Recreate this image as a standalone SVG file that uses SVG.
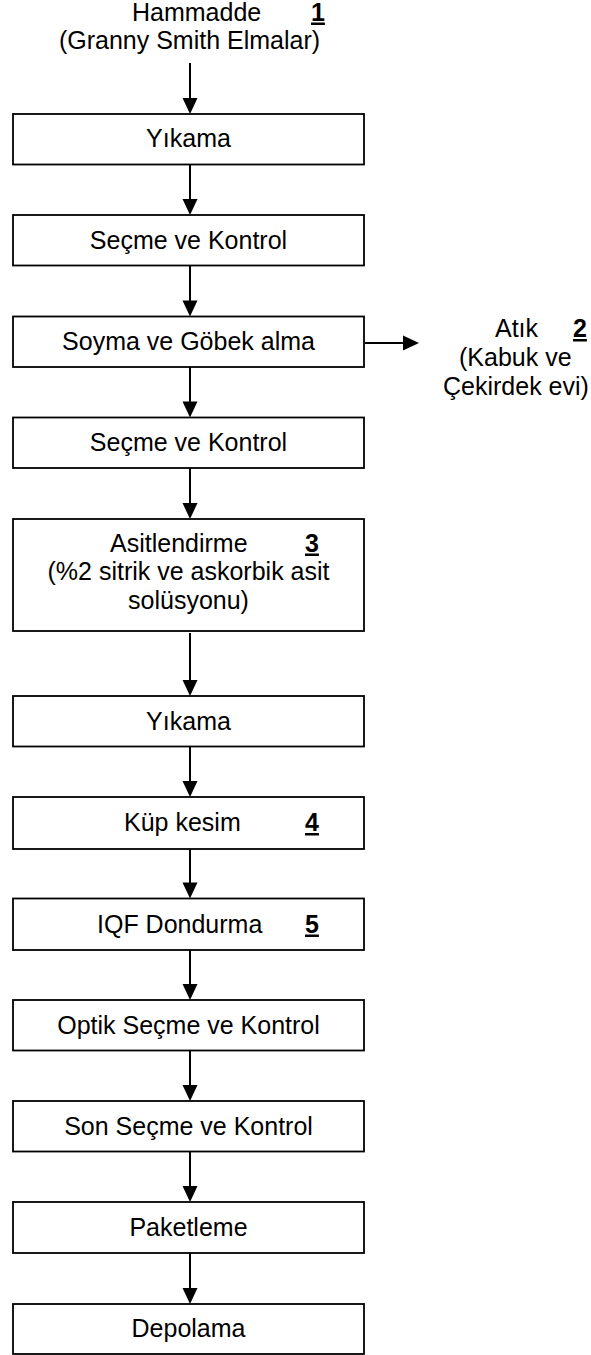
<svg xmlns="http://www.w3.org/2000/svg" width="591" height="1355" viewBox="0 0 591 1355">
<style>
text{font-family:"Liberation Sans",Arial,sans-serif;font-size:25px;fill:#000}
.c{text-anchor:middle}
.n{font-weight:bold;text-decoration:underline}
.box{fill:#fff;stroke:#000;stroke-width:1.8}
.ln{stroke:#000;stroke-width:2;fill:none}
.hd{fill:#000}
</style>
<rect width="591" height="1355" fill="#fff"/>
<g id="connectors">
<line class="ln" x1="190" y1="63" x2="190" y2="102"/><polygon class="hd" points="182.5,98 197.5,98 190,114"/>
<line class="ln" x1="190" y1="164.5" x2="190" y2="203"/><polygon class="hd" points="182.5,199 197.5,199 190,215"/>
<line class="ln" x1="190" y1="265.5" x2="190" y2="304"/><polygon class="hd" points="182.5,300.5 197.5,300.5 190,316.5"/>
<line class="ln" x1="365" y1="343" x2="408" y2="343"/><polygon class="hd" points="403,335.5 403,350.5 419,343"/>
<line class="ln" x1="190" y1="367" x2="190" y2="405"/><polygon class="hd" points="182.5,401.5 197.5,401.5 190,417.5"/>
<line class="ln" x1="190" y1="468" x2="190" y2="507"/><polygon class="hd" points="182.5,503 197.5,503 190,519"/>
<line class="ln" x1="190" y1="633" x2="190" y2="684"/><polygon class="hd" points="182.5,680 197.5,680 190,696"/>
<line class="ln" x1="190" y1="746.5" x2="190" y2="785"/><polygon class="hd" points="182.5,781 197.5,781 190,797"/>
<line class="ln" x1="190" y1="849" x2="190" y2="887"/><polygon class="hd" points="182.5,882.5 197.5,882.5 190,898.5"/>
<line class="ln" x1="190" y1="950" x2="190" y2="989"/><polygon class="hd" points="182.5,984 197.5,984 190,1000"/>
<line class="ln" x1="190" y1="1050.5" x2="190" y2="1089"/><polygon class="hd" points="182.5,1085 197.5,1085 190,1101"/>
<line class="ln" x1="190" y1="1151.5" x2="190" y2="1190"/><polygon class="hd" points="182.5,1186 197.5,1186 190,1202"/>
<line class="ln" x1="190" y1="1253" x2="190" y2="1292"/><polygon class="hd" points="182.5,1288 197.5,1288 190,1304"/>
</g>
<g id="hammadde">
<text x="132" y="20.5">Hammadde</text>
<text class="n" x="311" y="20.5">1</text>
<text class="c" x="189.5" y="49">(Granny Smith Elmalar)</text>
</g>
<g id="yikama1"><rect class="box" x="13" y="114" width="351" height="50.5"/><text class="c" x="188.5" y="147">Yıkama</text></g>
<g id="secme1"><rect class="box" x="13" y="215" width="351" height="50.5"/><text class="c" x="188.5" y="248.5">Seçme ve Kontrol</text></g>
<g id="soyma"><rect class="box" x="13" y="316.5" width="351" height="50.5"/><text class="c" x="188.5" y="350">Soyma ve Göbek alma</text></g>
<g id="atik">
<text x="495" y="337">Atık</text>
<text class="n" x="573" y="337">2</text>
<text x="459" y="366">(Kabuk ve</text>
<text x="443" y="395">Çekirdek evi)</text>
</g>
<g id="secme2"><rect class="box" x="13" y="417.5" width="351" height="50.5"/><text class="c" x="188.5" y="451">Seçme ve Kontrol</text></g>
<g id="asit">
<rect class="box" x="13" y="519" width="351" height="112"/>
<text x="110" y="551.5">Asitlendirme</text>
<text class="n" x="305" y="551.5">3</text>
<text class="c" x="188.5" y="580">(%2 sitrik ve askorbik asit</text>
<text class="c" x="188.5" y="608.5">solüsyonu)</text>
</g>
<g id="yikama2"><rect class="box" x="13" y="696" width="351" height="50.5"/><text class="c" x="188.5" y="729.5">Yıkama</text></g>
<g id="kup"><rect class="box" x="13" y="797" width="351" height="52"/><text x="124" y="831">Küp kesim</text><text class="n" x="305" y="831">4</text></g>
<g id="iqf"><rect class="box" x="13" y="898.5" width="351" height="51.5"/><text x="97" y="932.5">IQF Dondurma</text><text class="n" x="305" y="932.5">5</text></g>
<g id="optik"><rect class="box" x="13" y="1000" width="351" height="50.5"/><text class="c" x="188.5" y="1033.5">Optik Seçme ve Kontrol</text></g>
<g id="son"><rect class="box" x="13" y="1101" width="351" height="50.5"/><text class="c" x="188.5" y="1134.5">Son Seçme ve Kontrol</text></g>
<g id="paket"><rect class="box" x="13" y="1202" width="351" height="51"/><text class="c" x="188.5" y="1235.5">Paketleme</text></g>
<g id="depo"><rect class="box" x="13" y="1304" width="351" height="50"/><text class="c" x="188.5" y="1337">Depolama</text></g>
</svg>
